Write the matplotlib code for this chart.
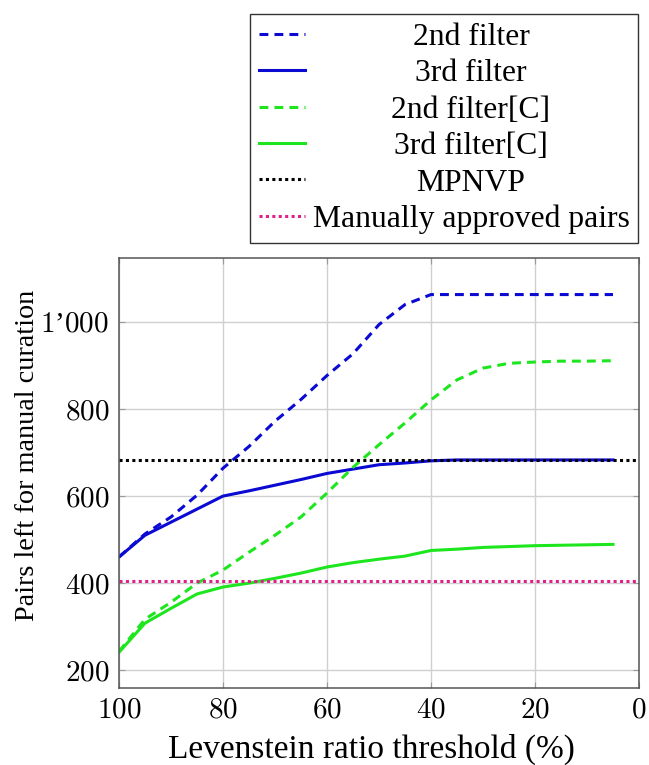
import matplotlib
matplotlib.use("Agg")
import matplotlib.pyplot as plt

plt.rcParams['font.family'] = ['Liberation Serif', 'DejaVu Serif']
plt.rcParams['mathtext.fontset'] = 'cm'

# data
threshold = [100, 95, 90, 85, 80, 75, 70, 65, 60, 55, 50, 45, 40, 35, 30, 25, 20, 15, 10, 5]
second = [460, 513, 552, 602, 664, 714, 772, 822, 877, 927, 994, 1040, 1063, 1063, 1063, 1063, 1063, 1063, 1063, 1063]
third = [460, 510, 540, 570, 600, 612, 625, 638, 652, 662, 672, 676, 681, 683, 683, 683, 683, 683, 683, 683]
second_c = [243, 317, 356, 400, 430, 471, 510, 552, 607, 666, 718, 768, 821, 867, 894, 905, 908, 910, 910, 911]
third_c = [241, 308, 342, 375, 391, 400, 411, 423, 437, 447, 455, 462, 475, 478, 482, 484, 486, 487, 488, 489]
mpnvp = 682
approved = 404

xticks = [100, 80, 60, 40, 20, 0]
xtick_labels = ['$100$', '$80$', '$60$', '$40$', '$20$', '$0$']
yticks = [200, 400, 600, 800, 1000]
ytick_labels = ['$200$', '$400$', '$600$', '$800$', '$1$\u2019$000$']

blue = '#0a0ad2'
green = '#1ee61e'
pink = '#e0208a'

fig = plt.figure(figsize=(6.49, 7.65), dpi=100)
ax = fig.add_axes([119 / 649, 77 / 765, 520 / 649, 430 / 765])

lw = 2.2
dash = (0, (2.9, 2.0))
dot = (0, (1.0, 1.1))
ax.plot(threshold, second, color=blue, lw=lw, ls=dash, label='2nd filter')
ax.plot(threshold, third, color=blue, lw=lw, label='3rd filter')
ax.plot(threshold, second_c, color=green, lw=lw, ls=dash, label='2nd filter[C]')
ax.plot(threshold, third_c, color=green, lw=lw, label='3rd filter[C]')
ax.axhline(mpnvp, color='black', lw=lw, ls=dot, label='MPNVP')
ax.axhline(approved, color=pink, lw=lw, ls=dot, label='Manually approved pairs')

ax.set_xlim(100, 0)
ax.set_ylim(159, 1147)
ax.set_xticks(xticks)
ax.set_xticklabels(xtick_labels)
ax.set_yticks(yticks)
ax.set_yticklabels(ytick_labels)
ax.tick_params(labelsize=21, direction='in', length=4, color='#999999',
               top=True, right=True, pad=7)
ax.grid(True, color='#d0d0d0', lw=1)
ax.set_axisbelow(True)
for s in ax.spines.values():
    s.set_color('#555555')
    s.set_linewidth(1.1)

ax.set_xlabel('Levenstein ratio threshold (%)', fontsize=24, labelpad=7, x=0.485)
ax.set_ylabel('Pairs left for manual curation', fontsize=20.3, labelpad=0, y=0.542)

leg = fig.legend(loc='upper right', bbox_to_anchor=(638 / 649, 1 - 14 / 765),
                 fontsize=22.8, frameon=True, fancybox=False, edgecolor='black',
                 borderaxespad=0, handlelength=1.45, handletextpad=0.25,
                 labelspacing=0.23, borderpad=0.27)
leg.get_frame().set_linewidth(1.0)

# centre the legend texts like pgfplots
fig.canvas.draw()
r = fig.canvas.get_renderer()
widths = [t.get_window_extent(r).width for t in leg.get_texts()]
w = max(widths)
for t, wi in zip(leg.get_texts(), widths):
    t.set_position(((w - wi) / 2, 0))

fig.savefig('out.png', dpi=100)
